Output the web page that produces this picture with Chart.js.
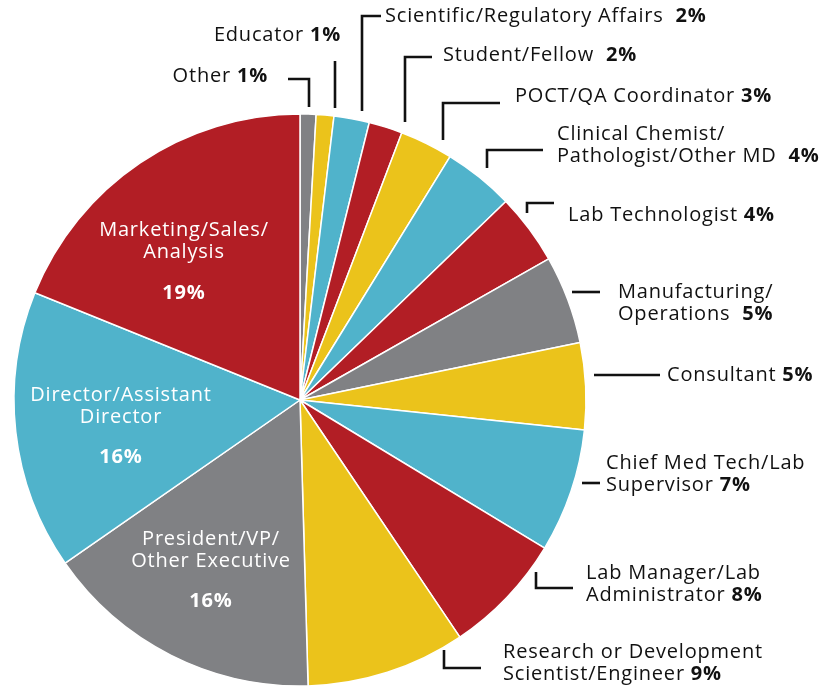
<!DOCTYPE html>
<html>
<head>
<meta charset="utf-8">
<script src="https://cdn.jsdelivr.net/npm/chart.js@4.4.1/dist/chart.umd.min.js"></script>
<style>
  html, body { margin: 0; padding: 0; background: #fff; }
  #wrap { position: relative; width: 833px; height: 686px; }
</style>
</head>
<body>
<div id="wrap"><canvas id="roles"></canvas></div>
<script>
// job roles, clockwise from 12 o'clock
const roles = [
  'Other', 'Educator', 'Scientific/Regulatory Affairs', 'Student/Fellow',
  'POCT/QA Coordinator', 'Clinical Chemist/Pathologist/Other MD', 'Lab Technologist',
  'Manufacturing/Operations', 'Consultant', 'Chief Med Tech/Lab Supervisor',
  'Lab Manager/Lab Administrator', 'Research or Development Scientist/Engineer',
  'President/VP/Other Executive', 'Director/Assistant Director', 'Marketing/Sales/Analysis'
]
// slice sizes as drawn (percent)
const shares = [0.9, 1, 2, 1.9, 3, 4, 4, 5, 4.9, 7, 6.9, 9, 15.8, 15.8, 18.9]
// printed percentages
const pctText = ['1%', '1%', '2%', '2%', '3%', '4%', '4%', '5%', '5%', '7%', '8%', '9%', '16%', '16%', '19%']

const RED = '#b21e25', BLUE = '#50b3cb', GRAY = '#808184', YELLOW = '#ebc31b'
const colors = [GRAY, YELLOW, BLUE, RED, YELLOW, BLUE, RED, GRAY, YELLOW, BLUE, RED, YELLOW, GRAY, BLUE, RED]

const FONT = '"Open Sans", "Noto Sans", sans-serif'
const SIZE = 20
const SPACING = '0.8px'

// label placement: text lines, anchor x, first line y, alignment, leader path
const outside = {
  0: { lines: ['Other'], x: 268, y: 76, align: 'right', gap: ' ', path: [[288, 79], [309, 79], [309, 107]] },
  1: { lines: ['Educator'], x: 341, y: 35, align: 'right', gap: ' ', path: [[335, 61], [335, 108]] },
  2: { lines: ['Scientific/Regulatory Affairs'], x: 385, y: 16, align: 'left', gap: '  ', path: [[381, 16], [362, 16], [362, 111]] },
  3: { lines: ['Student/Fellow'], x: 443, y: 55, align: 'left', gap: '  ', path: [[432, 57], [405, 57], [405, 122]] },
  4: { lines: ['POCT/QA Coordinator'], x: 515, y: 96, align: 'left', gap: ' ', path: [[500, 103], [443, 103], [443, 140]] },
  5: { lines: ['Clinical Chemist/', 'Pathologist/Other MD'], x: 557, y: 134, align: 'left', gap: '  ', path: [[543, 150], [487, 150], [487, 168]] },
  6: { lines: ['Lab Technologist'], x: 568, y: 215, align: 'left', gap: ' ', path: [[554, 203], [527, 203], [527, 213]] },
  7: { lines: ['Manufacturing/', 'Operations'], x: 618, y: 292, align: 'left', gap: '  ', path: [[572, 292], [600, 292]] },
  8: { lines: ['Consultant'], x: 667, y: 375, align: 'left', gap: ' ', path: [[594, 375], [660, 375]] },
  9: { lines: ['Chief Med Tech/Lab', 'Supervisor'], x: 606, y: 463, align: 'left', gap: ' ', path: [[582, 483], [600, 483]] },
  10: { lines: ['Lab Manager/Lab', 'Administrator'], x: 586, y: 573, align: 'left', gap: ' ', path: [[536, 572], [536, 588], [573, 588]] },
  11: { lines: ['Research or Development', 'Scientist/Engineer'], x: 503, y: 652, align: 'left', gap: ' ', path: [[444, 650], [444, 668], [481, 668]] }
}
const inside = {
  12: { lines: ['President/VP/', 'Other Executive'], x: 211, y: 539, pctY: 601 },
  13: { lines: ['Director/Assistant', 'Director'], x: 121, y: 395, pctY: 457 },
  14: { lines: ['Marketing/Sales/', 'Analysis'], x: 184, y: 230, pctY: 293 }
}
const LINE_H = 22.5

const labelPlugin = {
  id: 'roleLabels',
  afterDatasetsDraw(chart) {
    const ctx = chart.ctx
    ctx.save()
    ctx.textBaseline = 'middle'
    ctx.letterSpacing = SPACING
    const normal = `400 ${SIZE}px ${FONT}`
    const bold = `700 ${SIZE}px ${FONT}`

    Object.keys(outside).forEach(k => {
      const o = outside[k]
      ctx.strokeStyle = '#111'
      ctx.lineWidth = 2.6
      ctx.lineCap = 'butt'
      ctx.lineJoin = 'miter'
      ctx.beginPath()
      o.path.forEach((p, i) => i ? ctx.lineTo(p[0], p[1]) : ctx.moveTo(p[0], p[1]))
      ctx.stroke()

      ctx.fillStyle = '#111'
      o.lines.forEach((line, i) => {
        const y = o.y + i * LINE_H
        const last = i === o.lines.length - 1
        ctx.font = normal
        const txt = last ? line + o.gap : line
        const w1 = ctx.measureText(txt).width
        ctx.font = bold
        const w2 = last ? ctx.measureText(pctText[k]).width : 0
        let x = o.align === 'right' ? o.x - w1 - w2 : o.x
        ctx.textAlign = 'left'
        ctx.font = normal
        ctx.fillText(txt, x, y)
        if (last) {
          ctx.font = bold
          ctx.fillText(pctText[k], x + w1, y)
        }
      })
    })

    ctx.fillStyle = '#fff'
    ctx.textAlign = 'center'
    Object.keys(inside).forEach(k => {
      const o = inside[k]
      ctx.font = normal
      o.lines.forEach((line, i) => ctx.fillText(line, o.x, o.y + i * LINE_H))
      ctx.font = bold
      ctx.fillText(pctText[k], o.x, o.pctY)
    })
    ctx.restore()
  }
}

window.addEventListener('load', () => {
  new Chart(document.getElementById('roles'), {
    type: 'pie',
    data: {
      labels: roles,
      datasets: [{
        data: shares,
        backgroundColor: colors,
        borderColor: '#fff',
        borderWidth: 1.5
      }]
    },
    options: {
      responsive: true,
      maintainAspectRatio: false,
      animation: false,
      radius: 286,
      layout: { padding: { left: 14, right: 247, top: 114, bottom: 0 } },
      plugins: { legend: { display: false }, tooltip: { enabled: false } }
    },
    plugins: [labelPlugin]
  })
})
</script>
</body>
</html>
